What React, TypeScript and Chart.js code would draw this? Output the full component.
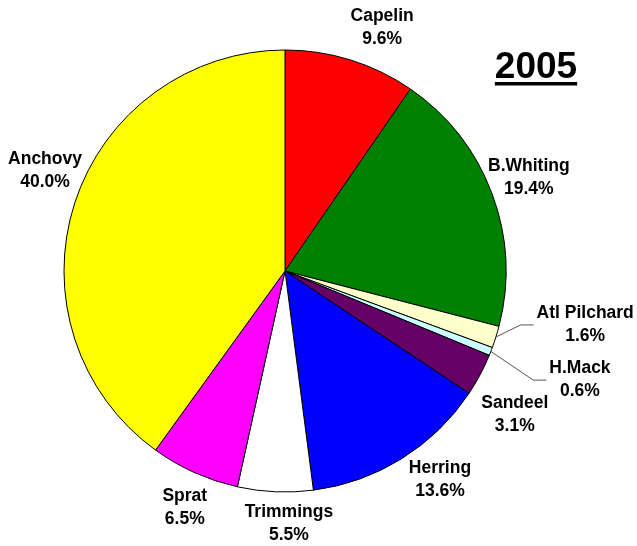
import React, { useEffect, useRef } from "react";
import { Chart, registerables } from "chart.js";

Chart.register(...registerables);

// ---- data ----
const categories = ["Capelin", "B.Whiting", "Atl Pilchard", "H.Mack", "Sandeel", "Herring", "Trimmings", "Sprat", "Anchovy"];
const shares = [9.6, 19.4, 1.6, 0.6, 3.1, 13.6, 5.5, 6.5, 40.0];
const percentLabels = shares.map((v) => v.toFixed(1) + "%");
const chartTitle = "2005";

// ---- styles ----
const sliceColors = ["#FF0000", "#008000", "#FFFFCC", "#CCFFFF", "#660066", "#0000FF", "#FFFFFF", "#FF00FF", "#FFFF00"];

// ---- label layout (text placement relative to each slice) ----
const labelAngleNudge = [4.5, -0.45, -7.2, -1.05, 4, -4.7, -3.4, -1.2, 4.7]; // degrees
const labelGap = [40.6, 40, 84, 93.5, 50, 39, 32, 36, 39]; // px beyond radius
const labelLeader = [false, false, true, true, false, false, false, false, false];

const FONT = "bold 17.5px 'Liberation Sans', Arial, sans-serif";

const labelPlugin = {
  id: "sliceLabels",
  afterDatasetsDraw(chart: any) {
    const ctx = chart.ctx;
    const meta = chart.getDatasetMeta(0);
    ctx.save();
    ctx.font = FONT;
    ctx.fillStyle = "#000";
    ctx.textAlign = "center";
    ctx.textBaseline = "middle";
    meta.data.forEach((arc: any, i: number) => {
      const { x, y, startAngle, endAngle, outerRadius } = arc.getProps(
        ["x", "y", "startAngle", "endAngle", "outerRadius"],
        true
      );
      const mid = (startAngle + endAngle) / 2;
      const a = mid + (labelAngleNudge[i] * Math.PI) / 180;
      const d = outerRadius + labelGap[i];
      const px = x + Math.cos(a) * d;
      const py = y + Math.sin(a) * d;
      const l1 = categories[i];
      const l2 = percentLabels[i];
      ctx.fillText(l1, px, py - 11.5);
      ctx.fillText(l2, px, py + 11.5);
      if (labelLeader[i]) {
        const w = Math.max(ctx.measureText(l1).width, ctx.measureText(l2).width);
        const end = px - w / 2 - 3;
        const elbow = end - 13;
        const ex = x + Math.cos(mid) * outerRadius;
        const ey = y + Math.sin(mid) * outerRadius;
        ctx.save();
        ctx.strokeStyle = "#555";
        ctx.lineWidth = 1;
        ctx.beginPath();
        ctx.moveTo(ex, ey);
        ctx.lineTo(elbow, py);
        ctx.lineTo(end, py);
        ctx.stroke();
        ctx.restore();
      }
    });
    // title
    ctx.font = "bold 37px 'Liberation Sans', Arial, sans-serif";
    ctx.textAlign = "center";
    ctx.textBaseline = "alphabetic";
    const tx = 536;
    const ty = 78;
    ctx.fillText(chartTitle, tx, ty);
    const tw = ctx.measureText(chartTitle).width;
    ctx.fillRect(tx - tw / 2, ty + 4, tw, 3.5);
    ctx.restore();
  },
};

export default function App() {
  const ref = useRef<HTMLCanvasElement | null>(null);
  useEffect(() => {
    if (!ref.current) return;
    const chart = new Chart(ref.current, {
      type: "pie",
      data: {
        labels: categories,
        datasets: [
          {
            data: shares,
            backgroundColor: sliceColors,
            borderColor: "#000",
            borderWidth: 1,
            radius: 221,
          } as any,
        ],
      },
      options: {
        responsive: false,
        animation: false,
        layout: { padding: { left: 64, right: 131, top: 50, bottom: 54 } },
        plugins: {
          legend: { display: false },
          tooltip: { enabled: false },
          title: { display: false },
        },
      },
      plugins: [labelPlugin],
    });
    return () => chart.destroy();
  }, []);
  return (
    <div style={{ position: "absolute", left: 0, top: 0, width: 637, height: 546, background: "#fff" }}>
      <canvas ref={ref} width={637} height={546} style={{ display: "block" }} />
    </div>
  );
}
